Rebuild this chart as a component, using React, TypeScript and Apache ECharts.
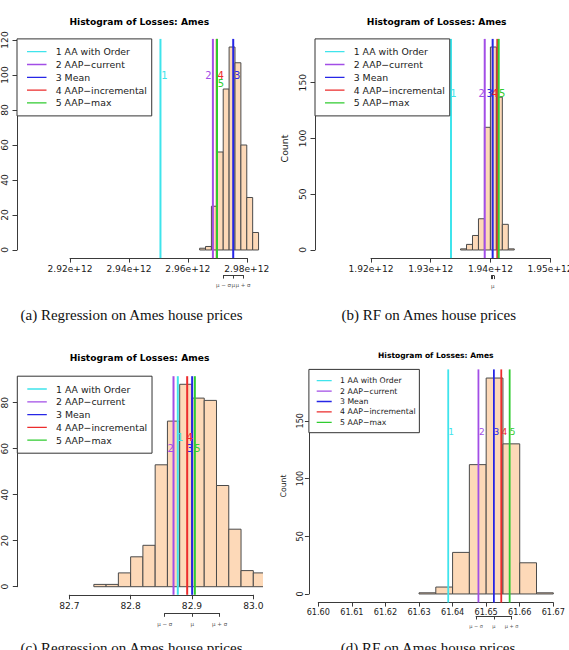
import React, { useEffect, useRef } from "react";
import * as echarts from "echarts";

// Shared legend entries for the five reference lines
const SERIES_NAMES = ["1 AA with Order", "2 AAP−current", "3 Mean", "4 AAP−incremental", "5 AAP−max"];
const SERIES_TAGS = ["1", "2", "3", "4", "5"];
const SERIES_COLORS = ["#3fe4ec", "#a24ee6", "#2626e6", "#ec2c2c", "#30cc30"];

const TITLE = "Histogram of Losses: Ames";
const Y_NAME = "Count";
const MU_LABELS = ["μ − σ", "μ", "μ + σ"];
const CAPTIONS = [
  "(a) Regression on Ames house prices",
  "(b) RF on Ames house prices",
  "(c) Regression on Ames house prices",
  "(d) RF on Ames house prices",
];

// (a) Regression on Ames house prices
const breaksA = [2.964e12, 2.966e12, 2.968e12, 2.97e12, 2.972e12, 2.974e12, 2.976e12, 2.978e12, 2.98e12, 2.982e12, 2.984e12];
const countsA = [1, 2, 25, 56, 92, 116, 107, 60, 30, 10];
const linesA = [2.9507e12, 2.9685e12, 2.9754e12, 2.9698e12, 2.9699e12];
const tagYA = [100, 100, 100, 100, 95];
const muA = 2.9754e12;
const sigmaA = 3.3e9;
const xTicksA = [2.92e12, 2.94e12, 2.96e12, 2.98e12];
const xTickLabelsA = ["2.92e+12", "2.94e+12", "2.96e+12", "2.98e+12"];
const yTicksA = [0, 20, 40, 60, 80, 100, 120];

// (b) RF on Ames house prices
const breaksB = [1.935e12, 1.936e12, 1.937e12, 1.938e12, 1.939e12, 1.94e12, 1.941e12, 1.942e12, 1.943e12, 1.944e12];
const countsB = [1, 5, 13, 28, 110, 182, 137, 23, 1];
const linesB = [1.9334e12, 1.93905e12, 1.94038e12, 1.94116e12, 1.94139e12];
const tagYB = [140, 140, 140, 140, 140];
const muB = 1.94038e12;
const sigmaB = 2e8;
const xTicksB = [1.92e12, 1.93e12, 1.94e12, 1.95e12];
const xTickLabelsB = ["1.92e+12", "1.93e+12", "1.94e+12", "1.95e+12"];
const yTicksB = [0, 50, 100, 150];

// (c) Regression on Ames house prices
const breaksC = [82.74, 82.76, 82.78, 82.8, 82.82, 82.84, 82.86, 82.88, 82.9, 82.92, 82.94, 82.96, 82.98, 83.0, 83.02];
const countsC = [1, 1, 6, 13, 18, 53, 72, 88, 82, 81, 44, 25, 7, 6];
const linesC = [82.8769, 82.8699, 82.9003, 82.8922, 82.9047];
const tagYC = [65, 60, 60, 65, 60];
const muC = 82.9003;
const sigmaC = 0.0448;
const xTicksC = [82.7, 82.8, 82.9, 83.0];
const xTickLabelsC = ["82.7", "82.8", "82.9", "83.0"];
const yTicksC = [0, 20, 40, 60, 80];

// (d) RF on Ames house prices
const breaksD = [61.63, 61.635, 61.64, 61.645, 61.65, 61.655, 61.66, 61.665, 61.67];
const countsD = [1, 6, 36, 112, 187, 130, 27, 1];
const linesD = [61.6387, 61.6477, 61.6523, 61.6545, 61.657];
const tagYD = [140, 140, 140, 140, 140];
const muD = 61.6523;
const sigmaD = 0.0053;
const xTicksD = [61.6, 61.61, 61.62, 61.63, 61.64, 61.65, 61.66, 61.67];
const xTickLabelsD = ["61.60", "61.61", "61.62", "61.63", "61.64", "61.65", "61.66", "61.67"];
const yTicksD = [0, 50, 100, 150];

const BAR_FILL = "#fdd9b8";
const BAR_EDGE = "#4a4a4a";
const AXIS_COLOR = "#3a3a3a";
const TEXT_COLOR = "#1a1a1a";
const SANS = '"DejaVu Sans", sans-serif';
const SERIF = '"Liberation Serif", "DejaVu Serif", serif';

const STYLE_BIG = {
  tick: 9.1, legend: 9.35, legendRow: 12.8, legendPad: [6.4, 4.8, 6.6, 10], iconLine: 19.5, iconW: 23.7,
  title: 9.15, tag: 10, mu: 5.5, lineW: 2, tickLen: 4.5, xMargin: 6.5, yMargin: 8, nameGap: 26, yName: 9.35,
};
const STYLE_SMALL = {
  tick: 8.15, legend: 7.75, legendRow: 10.4, legendPad: [6.1, 3.7, 5.2, 7.8], iconLine: 15, iconW: 18.3,
  title: 7.55, tag: 9, mu: 5, lineW: 1.8, tickLen: 4, xMargin: 5.2, yMargin: 5.1, nameGap: 21.4, yName: 7.75,
};

const PANELS = [
  {
    data: { breaks: breaksA, counts: countsA, lines: linesA, tagY: tagYA, mu: muA, sigma: sigmaA,
      xTicks: xTicksA, xTickLabels: xTickLabelsA, yTicks: yTicksA, muLabels: MU_LABELS, yName: "" },
    layout: { left: 17, top: 38.9, width: 244.5, height: 219.2, xRange: [2.902e12, 2.985e12],
      tagDx: [4, -4.5, 4, 4, 4], muGap: 17, titleY: 22, caption: [131.5, 315], style: STYLE_BIG },
  },
  {
    data: { breaks: breaksB, counts: countsB, lines: linesB, tagY: tagYB, mu: muB, sigma: sigmaB,
      xTicks: xTicksB, xTickLabels: xTickLabelsB, yTicks: yTicksB, muLabels: ["", "μ", ""], yName: Y_NAME },
    layout: { left: 315, top: 38.9, width: 243.4, height: 219.2, xRange: [1.91062e12, 1.95139e12],
      tagDx: [2.5, -3, -3, -2.3, 3.5], muGap: 17.5, titleY: 22, caption: [428.7, 315], style: STYLE_BIG },
  },
  {
    data: { breaks: breaksC, counts: countsC, lines: linesC, tagY: tagYC, mu: muC, sigma: sigmaC,
      xTicks: xTicksC, xTickLabels: xTickLabelsC, yTicks: yTicksC, muLabels: MU_LABELS, yName: "" },
    layout: { left: 17.3, top: 376.2, width: 244.4, height: 218.6, xRange: [82.6152, 83.0137],
      tagDx: [2.5, -2.7, -2.3, 2.4, 2.7], muGap: 18.5, titleY: 358, caption: [131.5, 648], style: STYLE_BIG },
  },
  {
    data: { breaks: breaksD, counts: countsD, lines: linesD, tagY: tagYD, mu: muD, sigma: sigmaD,
      xTicks: xTicksD, xTickLabels: xTickLabelsD, yTicks: yTicksD, muLabels: MU_LABELS, yName: Y_NAME },
    layout: { left: 308.9, top: 369.4, width: 253.8, height: 233.2, xRange: [61.5972, 61.6728],
      tagDx: [3, 3.4, 2.6, 3, 3], muGap: 13.4, titleY: 355, caption: [428, 648], style: STYLE_SMALL },
  },
];

function hiddenAxis(gridIndex: number) {
  return { type: "value", gridIndex, show: false, min: 0, max: 1 };
}

function buildOption() {
  const grids: any[] = [];
  const xAxes: any[] = [];
  const yAxes: any[] = [];
  const series: any[] = [];
  const legends: any[] = [];
  const graphics: any[] = [];

  PANELS.forEach((panel, p) => {
    const D = panel.data;
    const L = panel.layout;
    const S = L.style;
    const maxCount = Math.max(...D.counts);
    const yRange = [-0.04 * maxCount, 1.04 * maxCount];
    const px = (v: number) => L.left + ((v - L.xRange[0]) / (L.xRange[1] - L.xRange[0])) * L.width;
    const py = (v: number) => L.top + ((yRange[1] - v) / (yRange[1] - yRange[0])) * L.height;
    const bottom = L.top + L.height;
    const g = p * 4;
    const gridBase = { show: false, containLabel: false, outerBoundsMode: "none" };

    // plot region
    grids.push({ ...gridBase, left: L.left, top: L.top, width: L.width, height: L.height });
    // x tick axis (spans first to last tick)
    const xt0 = px(D.xTicks[0]);
    const xt1 = px(D.xTicks[D.xTicks.length - 1]);
    grids.push({ ...gridBase, left: xt0, top: bottom - 10, width: xt1 - xt0, height: 10 });
    // y tick axis
    const yt1 = py(D.yTicks[D.yTicks.length - 1]);
    const yt0 = py(D.yTicks[0]);
    grids.push({ ...gridBase, left: L.left, top: yt1, width: 10, height: yt0 - yt1 });
    // mean ± sd axis
    const m0 = px(D.mu - D.sigma);
    const m1 = px(D.mu + D.sigma);
    grids.push({ ...gridBase, left: m0, top: bottom + L.muGap - 10, width: Math.max(m1 - m0, 0.5), height: 10 });

    const axisLine = { show: true, lineStyle: { color: AXIS_COLOR, width: 1 } };

    xAxes.push({ type: "value", gridIndex: g, min: L.xRange[0], max: L.xRange[1], show: false });
    yAxes.push({
      type: "value", gridIndex: g, min: yRange[0], max: yRange[1], show: true,
      axisLine: { show: false }, axisTick: { show: false }, axisLabel: { show: false }, splitLine: { show: false },
      name: D.yName, nameLocation: "middle", nameRotate: 90, nameGap: S.nameGap,
      nameTextStyle: { fontFamily: SANS, fontSize: S.yName, color: TEXT_COLOR },
    });

    const nx = D.xTicks.length;
    xAxes.push({
      type: "value", gridIndex: g + 1, position: "bottom", min: 0, max: nx - 1, interval: 1,
      axisLine, splitLine: { show: false },
      axisTick: { show: true, length: S.tickLen, inside: false, lineStyle: { color: AXIS_COLOR } },
      axisLabel: {
        show: true, margin: S.xMargin, fontFamily: SANS, fontSize: S.tick, color: TEXT_COLOR,
        showMinLabel: true, showMaxLabel: true, alignMinLabel: "center", alignMaxLabel: "center",
        formatter: (v: number) => D.xTickLabels[Math.round(v)] ?? "",
      },
    });
    yAxes.push(hiddenAxis(g + 1));

    xAxes.push(hiddenAxis(g + 2));
    const ny = D.yTicks.length;
    yAxes.push({
      type: "value", gridIndex: g + 2, position: "left", min: D.yTicks[0], max: D.yTicks[ny - 1],
      interval: D.yTicks[1] - D.yTicks[0], axisLine, splitLine: { show: false },
      axisTick: { show: true, length: S.tickLen, inside: false, lineStyle: { color: AXIS_COLOR } },
      axisLabel: {
        show: true, rotate: 90, margin: S.yMargin, fontFamily: SANS, fontSize: S.tick, color: TEXT_COLOR,
        showMinLabel: true, showMaxLabel: true,
      },
    });

    xAxes.push({
      type: "value", gridIndex: g + 3, position: "bottom", min: -1, max: 1, interval: 1,
      axisLine, splitLine: { show: false },
      axisTick: { show: true, length: 3.5, inside: false, lineStyle: { color: AXIS_COLOR } },
      axisLabel: {
        show: true, margin: 7.3, fontFamily: SANS, fontSize: S.mu, color: "#555",
        showMinLabel: true, showMaxLabel: true, alignMinLabel: "center", alignMaxLabel: "center",
        formatter: (v: number) => D.muLabels[Math.round(v) + 1] ?? "",
      },
    });
    yAxes.push(hiddenAxis(g + 3));

    // histogram bars
    series.push({
      type: "custom", xAxisIndex: g, yAxisIndex: g, clip: true, silent: true, z: 2,
      data: D.counts.map((c, i) => [D.breaks[i], D.breaks[i + 1], c]),
      renderItem: (_params: any, api: any) => {
        const a = api.coord([api.value(0), api.value(2)]);
        const b = api.coord([api.value(1), 0]);
        return {
          type: "rect",
          shape: { x: a[0], y: a[1], width: b[0] - a[0], height: b[1] - a[1] },
          style: { fill: BAR_FILL, stroke: BAR_EDGE, lineWidth: 1 },
        };
      },
    });

    // vertical reference lines with their numeric tags
    SERIES_NAMES.forEach((name, i) => {
      const color = SERIES_COLORS[i];
      series.push({
        name, type: "custom", xAxisIndex: g, yAxisIndex: g, silent: true, z: 3,
        itemStyle: { color },
        data: [[D.lines[i], D.tagY[i]]],
        renderItem: (params: any, api: any) => {
          const pt = api.coord([api.value(0), api.value(1)]);
          const cs = params.coordSys;
          return {
            type: "group",
            children: [
              { type: "line", shape: { x1: pt[0], y1: cs.y, x2: pt[0], y2: cs.y + cs.height },
                style: { stroke: color, lineWidth: S.lineW } },
              { type: "text", x: pt[0] + L.tagDx[i], y: pt[1],
                style: { text: SERIES_TAGS[i], fill: color, fontSize: S.tag, fontFamily: SANS,
                  align: "center", verticalAlign: "middle" } },
            ],
          };
        },
      });
    });

    legends.push({
      data: SERIES_NAMES, left: L.left, top: L.top, orient: "vertical", selectedMode: false,
      padding: S.legendPad, itemGap: 0, itemWidth: S.iconW, itemHeight: 1.3,
      icon: `path://M0,0H${S.iconLine}V1H0Z M${S.iconW},0V1`,
      symbolKeepAspect: false,
      itemStyle: { borderWidth: 0 },
      textStyle: { fontFamily: SANS, fontSize: S.legend, lineHeight: S.legendRow, color: TEXT_COLOR },
      borderColor: "#333", borderWidth: 1, borderRadius: 0, backgroundColor: "#fff",
    });

    graphics.push({
      type: "text", x: L.left + L.width / 2, y: L.titleY, silent: true,
      style: { text: TITLE, fill: "#000", fontSize: S.title, fontWeight: "bold", fontFamily: SANS,
        align: "center", verticalAlign: "middle" },
    });
    graphics.push({
      type: "text", x: L.caption[0], y: L.caption[1], silent: true,
      style: { text: CAPTIONS[p], fill: "#111", fontSize: 15, fontFamily: SERIF,
        align: "center", verticalAlign: "middle" },
    });
  });

  return {
    animation: false,
    backgroundColor: "#ffffff",
    grid: grids,
    xAxis: xAxes,
    yAxis: yAxes,
    legend: legends,
    series,
    graphic: graphics,
  };
}

export default function App() {
  const ref = useRef<HTMLDivElement>(null);
  useEffect(() => {
    if (!ref.current) return;
    const chart = echarts.init(ref.current, undefined, { renderer: "svg" });
    chart.setOption(buildOption() as any);
    return () => chart.dispose();
  }, []);
  return (
    <div
      ref={ref}
      style={{ position: "absolute", left: 0, top: 0, width: 569, height: 650, background: "#fff" }}
    />
  );
}
